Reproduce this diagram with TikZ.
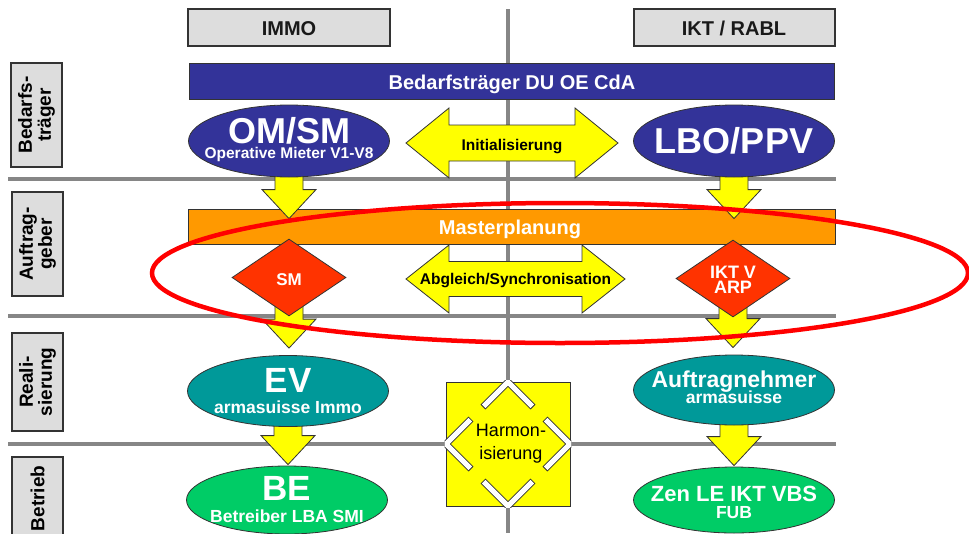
\documentclass[tikz,border=0pt]{standalone}
\usepackage{fontspec}
\setmainfont{Liberation Sans}
\usetikzlibrary{shapes.geometric,calc}
\pgfdeclarelayer{back}
\pgfdeclarelayer{arrows}
\pgfdeclarelayer{front}
\pgfsetlayers{back,arrows,main,front}
\definecolor{navy}{HTML}{333399}
\definecolor{morange}{HTML}{FF9900}
\definecolor{dred}{HTML}{FF3300}
\definecolor{tealc}{HTML}{009999}
\definecolor{mgreen}{HTML}{00CC66}
\definecolor{myellow}{HTML}{FFFF00}
\definecolor{hdrgray}{HTML}{DDDDDD}
\definecolor{linegray}{HTML}{868686}
\definecolor{edge}{HTML}{333333}
\newcommand{\myfs}[1]{\fontsize{#1pt}{#1pt}\selectfont}
\newcommand{\ydown}[2]{%
 \draw[yarr] let \p1=#1, \p2=#2 in
 (\x1-14pt,\y1) -- (\x1+14pt,\y1) -- (\x1+14pt,\y2+29pt) -- (\x1+27pt,\y2+29pt)
 -- (\x1,\y2) -- (\x1-27pt,\y2+29pt) -- (\x1-14pt,\y2+29pt) -- cycle;}
\newcommand{\ydouble}[5]{%
 \draw[yarr] let \p1=(#1) in
 (\x1-#2pt,\y1) -- (\x1-#2pt+#3pt,\y1+#4pt) -- (\x1-#2pt+#3pt,\y1+#5pt)
 -- (\x1+#2pt-#3pt,\y1+#5pt) -- (\x1+#2pt-#3pt,\y1+#4pt) -- (\x1+#2pt,\y1)
 -- (\x1+#2pt-#3pt,\y1-#4pt) -- (\x1+#2pt-#3pt,\y1-#5pt) -- (\x1-#2pt+#3pt,\y1-#5pt)
 -- (\x1-#2pt+#3pt,\y1-#4pt) -- cycle;}
\newcommand{\chev}[3]{%
 \draw[draw=edge, line width=7pt, line join=miter] #1 -- #2 -- #3;
 \draw[draw=white, line width=5pt, line join=miter, shorten <=1pt, shorten >=1pt] #1 -- #2 -- #3;}
\tikzset{
 gline/.style={draw=linegray, line width=4pt},
 outl/.style={draw=edge, line width=0.8pt},
 hdr/.style={draw=edge, line width=1.3pt, fill=hdrgray, minimum width=202pt, minimum height=37pt, inner sep=0pt},
 bar/.style={outl, minimum height=36pt, inner sep=0pt},
 side/.style={draw=edge, line width=1.3pt, fill=hdrgray, rotate=90, inner sep=0pt, minimum height=51pt, align=center, font=\myfs{19}\bfseries, text=black},
 oval/.style={ellipse, outl, minimum width=201pt, minimum height=72pt, inner sep=0pt},
 dia/.style={diamond, outl, fill=dred, minimum width=114pt, minimum height=77pt, inner sep=0pt},
 yarr/.style={draw=edge, line width=0.8pt, fill=myellow, line join=miter},
 t/.style={anchor=base, inner sep=0pt, outer sep=0pt},
 wt/.style={t, text=white},
}
\begin{document}
\begin{tikzpicture}[x=1pt,y=-1pt]
\useasboundingbox (0,0) rectangle (969,533);
% grid lines
\begin{pgfonlayer}{back}
\draw[gline] (508,9) -- (508,533);
\draw[gline] (8,179) -- (836,179);
\draw[gline] (8,316) -- (836,316);
\draw[gline] (8,444) -- (836,444);
\node[hdr] (immo) at (289,27.5) {};
\node[hdr, minimum width=201pt] (ikt) at (734.5,27.5) {};
\node[bar, fill=navy, minimum width=645pt] (bedarf) at (511.5,81) {};
\node[bar, fill=morange, minimum width=647pt, minimum height=35pt] (master) at (511.5,226.5) {};
\end{pgfonlayer}
\node[t, text=black!90, font=\myfs{20}\bfseries] (immot) at (289,35.5) {IMMO};
\node[t, text=black!90, font=\myfs{20}\bfseries] (iktt) at (734,35.5) {IKT / RABL};
\node[wt, font=\myfs{20}\bfseries] (bedarft) at (512,89) {Bedarfsträger DU OE CdA};
\node[wt, font=\myfs{20}\bfseries] (mastert) at (510,234.5) {Masterplanung};
% side labels
\node[side, minimum width=104pt] (s1) at (36.5,115) {Bedarfs-\\träger};
\node[side, minimum width=104pt] (s2) at (37.5,244) {Auftrag-\\geber};
\node[side, minimum width=98pt] (s3) at (37.5,382) {Reali-\\sierung};
\node[side, minimum width=83pt] (s4) at (37.5,498.5) {Betrieb};
% main shapes
\node[oval, fill=navy] (omsm) at (289,141) {};
\node[oval, fill=navy] (lbo) at (734,141) {};
\node[dia] (sm) at (289,277.5) {};
\node[dia] (iktv) at (733,278.5) {};
\node[oval, fill=tealc, minimum height=71pt] (ev) at (288,391) {};
\node[oval, fill=tealc, minimum height=70pt] (aun) at (734,390) {};
\node[oval, fill=mgreen, minimum height=68pt] (be) at (287,500) {};
\node[oval, fill=mgreen, minimum height=66pt] (zen) at (734,500) {};
% texts
\node[wt, font=\myfs{36}\bfseries] (omsmt) at (289,143) {OM/SM};
\node[wt, font=\myfs{15.5}\bfseries] (omsms) at (289,158) {Operative Mieter V1-V8};
\node[wt, font=\myfs{36}\bfseries] (lbot) at (734,153) {LBO/PPV};
\node[wt, font=\myfs{17}\bfseries] (smt) at (289,285) {SM};
\node[wt, font=\myfs{18}\bfseries] (iktvt) at (733,278) {IKT V};
\node[wt, font=\myfs{18}\bfseries] (arpt) at (733,293) {ARP};
\node[wt, font=\myfs{35}\bfseries] (evt) at (288,392) {EV};
\node[wt, font=\myfs{17.5}\bfseries] (evs) at (288,413) {armasuisse Immo};
\node[wt, font=\myfs{23}\bfseries] (aunt) at (734,387) {Auftragnehmer};
\node[wt, font=\myfs{17.5}\bfseries] (auns) at (734,403) {armasuisse};
\node[wt, font=\myfs{35}\bfseries] (bet) at (287,500) {BE};
\node[wt, font=\myfs{17.5}\bfseries] (bes) at (287,522) {Betreiber LBA SMI};
\node[wt, font=\myfs{22}\bfseries] (zent) at (734,501) {Zen LE IKT VBS};
\node[wt, font=\myfs{17.5}\bfseries] (zens) at (734,518) {FUB};
% yellow arrows
\coordinate (initc) at (512,143);
\coordinate (abgc) at (515.5,279);
\begin{pgfonlayer}{arrows}
\ydown{($(omsm.south)+(0,-10)$)}{($(omsm.south |- master.north)+(0,10)$)}
\ydown{($(lbo.south)+(0,-10)$)}{($(lbo.south |- master.north)+(0,10)$)}
\ydown{($(sm.south)+(0,-16)$)}{($(sm.south |- ev.north)+(0,-7)$)}
\ydown{($(iktv.south)+(0,-16)$)}{($(iktv.south |- aun.north)+(0,-7)$)}
\ydown{($(ev.south)+(0,-8)$)}{($(ev.south |- be.north)+(0,-1)$)}
\ydown{($(aun.south)+(0,-8)$)}{($(aun.south |- zen.north)+(0,-1)$)}
\ydouble{initc}{106}{43}{35}{18}
\ydouble{abgc}{109.5}{43}{34}{17.5}
\end{pgfonlayer}
\node[t, font=\myfs{15.5}\bfseries] (init) at ($(initc)+(0,7)$) {Initialisierung};
\node[t, font=\myfs{15.5}\bfseries] (abg) at ($(abgc)+(0,5)$) {Abgleich/Synchronisation};
% Harmonisierung
\node[draw=edge, line width=0.8pt, fill=myellow, minimum size=124pt, inner sep=0pt] (harm) at (508,444) {};
\begin{scope}
\clip ($(harm.north west)+(-1,-1)$) rectangle ($(harm.south east)+(1,1)$);
\chev{($(harm)+(-25,-37)$)}{($(harm)+(0,-62)$)}{($(harm)+(25,-37)$)}
\chev{($(harm)+(-25,37)$)}{($(harm)+(0,62)$)}{($(harm)+(25,37)$)}
\chev{($(harm)+(-37,-25)$)}{($(harm)+(-62,0)$)}{($(harm)+(-37,25)$)}
\chev{($(harm)+(37,-25)$)}{($(harm)+(62,0)$)}{($(harm)+(37,25)$)}
\end{scope}
\node[t, font=\myfs{18}] (harm1) at (511,436) {Harmon-};
\node[t, font=\myfs{18}] (harm2) at (511,459) {isierung};
% red focus ellipse
\begin{pgfonlayer}{front}
\node[ellipse, draw=red, line width=4.5pt, minimum width=816pt, minimum height=140pt, inner sep=0pt] (focus) at (560,273) {};
\end{pgfonlayer}
\end{tikzpicture}
\end{document}
